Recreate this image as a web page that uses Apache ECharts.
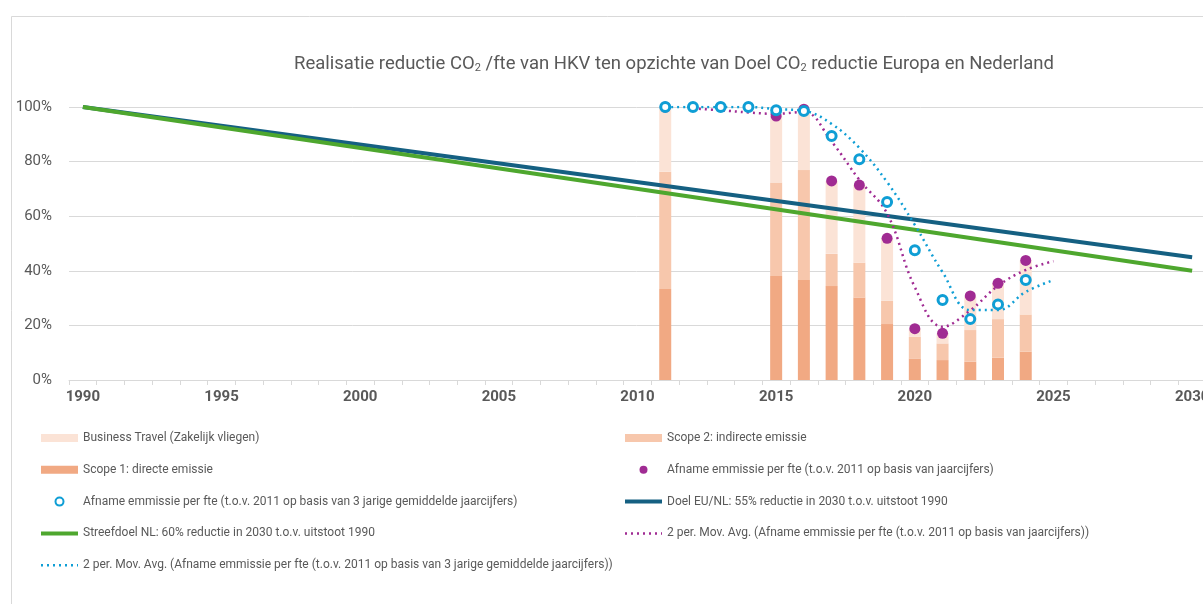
<!DOCTYPE html>
<html>
<head>
<meta charset="utf-8">
<title>Realisatie reductie CO2 HKV</title>
<script src="https://cdn.jsdelivr.net/npm/echarts@6/dist/echarts.min.js"></script>
<style>
  html, body { margin: 0; padding: 0; background: #fff; }
  #main { width: 1203px; height: 604px; }
</style>
</head>
<body>
<div id="main"></div>
<script>
// categorie-as: jaren 1990 t/m 2030
const years = [];
for (let y = 1990; y <= 2030; y++) years.push(String(y));

// gestapelde staven (in % t.o.v. 2011)
const barYears = [2011, 2015, 2016, 2017, 2018, 2019, 2020, 2021, 2022, 2023, 2024];
const scope1 = [33.3, 38.1, 36.6, 34.4, 30.2, 20.5, 7.9, 7.3, 6.7, 8.2, 10.4];
const scope2 = [43.0, 34.2, 40.3, 11.8, 12.8, 8.5, 7.9, 6.1, 11.6, 14.1, 13.6];
const travel = [23.7, 24.4, 22.1, 26.7, 28.4, 22.9, 2.9, 3.7, 12.2, 13.1, 19.8];

// afname per fte op basis van jaarcijfers
const fteYears = [2011, 2015, 2016, 2017, 2018, 2019, 2020, 2021, 2022, 2023, 2024];
const perFte = [100, 96.7, 99.2, 72.9, 71.4, 51.9, 18.8, 17.1, 30.8, 35.4, 43.8];

// afname per fte op basis van 3 jarige gemiddelden
const fte3Years = [2011, 2012, 2013, 2014, 2015, 2016, 2017, 2018, 2019, 2020, 2021, 2022, 2023, 2024];
const perFte3 = [100, 100, 100, 100, 98.8, 98.5, 89.4, 80.9, 65.2, 47.5, 29.3, 22.3, 27.7, 36.6];

// 2 per. moving average (zoals getekend)
const maYears = [2012, 2013, 2014, 2015, 2016, 2017, 2018, 2019, 2020, 2021, 2022, 2023, 2024, 2025];
const maPerFte = [99.5, 98.8, 98.0, 97.5, 98.2, 87.3, 73.3, 61.0, 34.0, 19.5, 25.5, 34.5, 40.3, 43.5];
const ma3Years = [2011, 2012, 2013, 2014, 2015, 2016, 2017, 2018, 2019, 2020, 2021, 2022, 2023, 2024, 2025];
const maPerFte3 = [100, 100, 100, 100, 99.2, 98.6, 93.8, 85.0, 72.5, 56.8, 39.5, 25.6, 25.6, 32.3, 36.6];

// doelen
const goalYears = [1990, 2030];
const doelEU = [100, 45];
const streefNL = [100, 40];

const yTicks = [0, 20, 40, 60, 80, 100];

const NAMES = {
  travel: 'Business Travel (Zakelijk vliegen)',
  scope2: 'Scope 2: indirecte emissie',
  scope1: 'Scope 1: directe emissie',
  fte: 'Afname emmissie per fte (t.o.v. 2011 op basis van jaarcijfers)',
  fte3: 'Afname emmissie per fte (t.o.v. 2011 op basis van 3 jarige gemiddelde jaarcijfers)',
  doel: 'Doel EU/NL: 55% reductie in 2030 t.o.v. uitstoot 1990',
  streef: 'Streefdoel NL: 60% reductie in 2030 t.o.v. uitstoot 1990',
  ma: '2 per. Mov. Avg. (Afname emmissie per fte (t.o.v. 2011 op basis van jaarcijfers))',
  ma3: '2 per. Mov. Avg. (Afname emmissie per fte (t.o.v. 2011 op basis van 3 jarige gemiddelde jaarcijfers))',
};

const FONT = 'Roboto';
const TXT = '#595959';
const GRID = '#d9d9d9';

const toFull = (ys, vals) => {
  const out = years.map(() => null);
  ys.forEach((y, i) => { out[years.indexOf(String(y))] = vals[i]; });
  return out;
};
const toPairs = (ys, vals) => ys.map((y, i) => [String(y), vals[i]]);

const barSeries = (name, vals, color) => ({
  name,
  type: 'bar',
  stack: 'emissie',
  barWidth: 12,
  itemStyle: { color },
  data: toFull(barYears, vals),
});

// lijn-iconen in de legenda zonder bolletje
const lineItem = (name, width) => ({ name, itemStyle: { opacity: 0 }, lineStyle: { width } });

const legendBase = {
  orient: 'vertical',
  padding: 0,
  itemWidth: 37,
  itemHeight: 8,
  itemGap: 17.8,
  selectedMode: false,
  textStyle: { fontFamily: FONT, fontSize: 12, lineHeight: 14, color: TXT },
};

const chart = echarts.init(document.getElementById('main'));

const option = {
  animation: false,
  backgroundColor: '#fff',
  textStyle: { fontFamily: FONT },
  title: {
    text: '{t|Realisatie reductie CO}{s|2}{t| /fte van HKV ten opzichte van Doel CO}{s|2}{t| reductie Europa en Nederland}',
    left: 294,
    top: 50,
    padding: 0,
    textStyle: {
      rich: {
        t: { fontFamily: FONT, fontSize: 18.5, fontWeight: 'normal', lineHeight: 24, color: TXT, verticalAlign: 'bottom' },
        s: { fontFamily: FONT, fontSize: 11, fontWeight: 'normal', lineHeight: 12, color: TXT, verticalAlign: 'bottom' },
      },
    },
  },
  graphic: [
    {
      type: 'rect',
      left: 9,
      top: 14,
      shape: { width: 1300, height: 700 },
      style: { fill: 'none', stroke: GRID, lineWidth: 1 },
      silent: true,
    },
  ],
  legend: [
    Object.assign({}, legendBase, {
      left: 39,
      top: 431,
      data: [
        { name: NAMES.travel, icon: 'rect' },
        { name: NAMES.scope1, icon: 'rect' },
        { name: NAMES.fte3, icon: 'circle' },
        lineItem(NAMES.streef, 4),
        lineItem(NAMES.ma3, 2.5),
      ],
    }),
    Object.assign({}, legendBase, {
      left: 623,
      top: 431,
      data: [
        { name: NAMES.scope2, icon: 'rect' },
        { name: NAMES.fte, icon: 'circle' },
        lineItem(NAMES.doel, 4),
        lineItem(NAMES.ma, 2.5),
      ],
    }),
  ],
  grid: { left: 69, right: -3, top: 107, bottom: 224, outerBoundsMode: 'none', containLabel: false },
  xAxis: {
    type: 'category',
    data: years,
    boundaryGap: true,
    axisLine: { lineStyle: { color: GRID, width: 1 } },
    axisTick: { show: true, interval: 0, length: 5, lineStyle: { color: GRID } },
    axisLabel: {
      interval: 4,
      margin: 10,
      fontFamily: FONT,
      fontSize: 15,
      fontWeight: 'bold',
      color: TXT,
      hideOverlap: false,
    },
  },
  yAxis: {
    type: 'value',
    min: yTicks[0],
    max: yTicks[yTicks.length - 1],
    interval: 20,
    axisLine: { show: false },
    axisTick: { show: false },
    splitLine: { lineStyle: { color: GRID, width: 1 } },
    axisLabel: { formatter: '{value}%', margin: 17, fontFamily: FONT, fontSize: 15, color: TXT },
  },
  series: [
    barSeries(NAMES.scope1, scope1, '#F1A983'),
    barSeries(NAMES.scope2, scope2, '#F7C7AC'),
    barSeries(NAMES.travel, travel, '#FBE3D6'),
    {
      name: NAMES.doel,
      type: 'line',
      data: toFull(goalYears, doelEU),
      connectNulls: true,
      symbol: 'none',
      lineStyle: { color: '#156082', width: 4 },
      itemStyle: { color: '#156082' },
      z: 3,
    },
    {
      name: NAMES.streef,
      type: 'line',
      data: toFull(goalYears, streefNL),
      connectNulls: true,
      symbol: 'none',
      lineStyle: { color: '#4EA72E', width: 4 },
      itemStyle: { color: '#4EA72E' },
      z: 3,
    },
    {
      name: NAMES.ma,
      type: 'line',
      data: toPairs(maYears, maPerFte),
      smooth: 0.4,
      symbol: 'none',
      lineStyle: { color: '#A02B93', width: 2.5, type: [2, 4] },
      itemStyle: { color: '#A02B93' },
      z: 4,
    },
    {
      name: NAMES.ma3,
      type: 'line',
      data: toPairs(ma3Years, maPerFte3),
      smooth: 0.4,
      symbol: 'none',
      lineStyle: { color: '#0F9ED5', width: 2.5, type: [2, 4] },
      itemStyle: { color: '#0F9ED5' },
      z: 4,
    },
    {
      name: NAMES.fte,
      type: 'scatter',
      data: toPairs(fteYears, perFte),
      symbol: 'circle',
      symbolSize: 11,
      itemStyle: { color: '#A02B93', opacity: 1 },
      z: 5,
    },
    {
      name: NAMES.fte3,
      type: 'scatter',
      data: toPairs(fte3Years, perFte3),
      symbol: 'circle',
      symbolSize: 9,
      itemStyle: { color: '#fff', borderColor: '#0F9ED5', borderWidth: 3, opacity: 1 },
      z: 6,
    },
  ],
};

chart.setOption(option);
window.addEventListener('resize', chart.resize);
</script>
</body>
</html>
